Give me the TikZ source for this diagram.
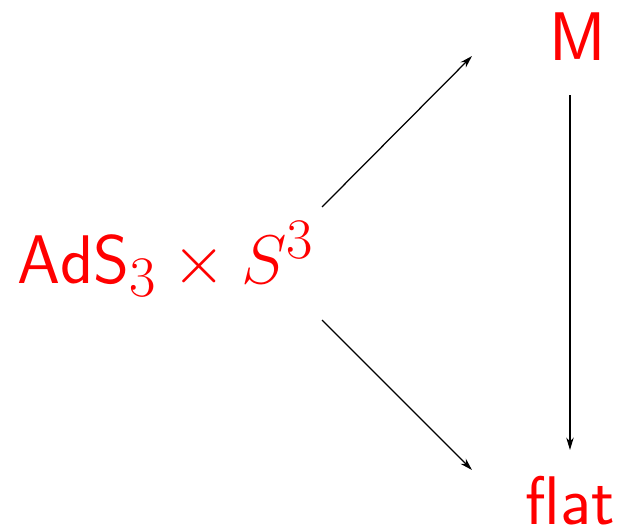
\documentclass[tikz,border=0pt]{standalone}
\usepackage{amsmath, amssymb}
\usepackage{xcolor}
\usepackage{tikz}
\usetikzlibrary{arrows.meta}
\definecolor{labelred}{RGB}{255,0,0}

\begin{document}
\begin{tikzpicture}[font=\Huge\sffamily]
  \tikzset{space/.style={labelred, inner sep=0pt, anchor=base, scale=1.11, transform shape},
           maparrow/.style={line width=0.5pt, -{Stealth[length=5pt, width=3pt]}}}
  \useasboundingbox (0,0) rectangle (8.749,7.465);
  \node[space] (adss) at (2.342,3.471) {$\mathsf{AdS}_3\times S^3$};
  \node[space] (m) at (8.156,6.618) {M};
  \node[space] (flat) at (8.043,0.070) {flat};
  \draw[maparrow] ([shift={(2.202,1.073)}]adss.base) -- ([shift={(-1.496,0.056)}]m.base);
  \draw[maparrow] ([shift={(2.202,-0.522)}]adss.base) -- ([shift={(-1.383,0.763)}]flat.base);
  \draw[maparrow] ([shift={(-0.113,-0.494)}]m.base) -- ([shift={(0,1.045)}]flat.base);
\end{tikzpicture}
\end{document}
